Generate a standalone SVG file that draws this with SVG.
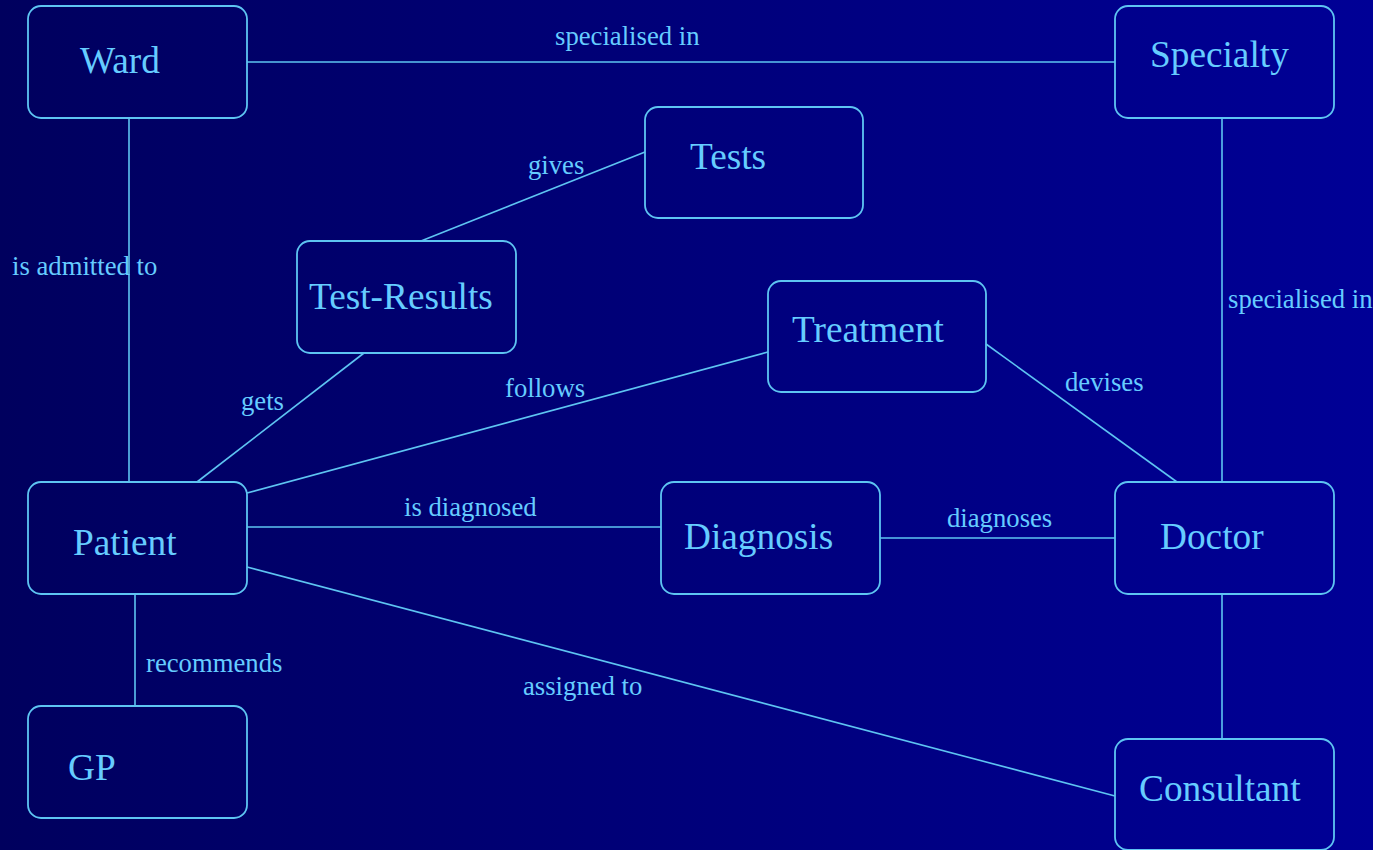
<svg xmlns="http://www.w3.org/2000/svg" width="1373" height="850" viewBox="0 0 1373 850">
<defs>
<linearGradient id="bg" x1="0" y1="0" x2="1" y2="0">
<stop offset="0" stop-color="#00005E"/>
<stop offset="1" stop-color="#000096"/>
</linearGradient>
<style>
.box{fill:none;stroke:#5EC4F2;stroke-width:1.8}
.name{font-family:"Liberation Serif","Times New Roman",serif;font-size:37.3px;fill:#66CCFF}
.lbl{font-family:"Liberation Serif","Times New Roman",serif;font-size:26.7px;fill:#66CCFF}
.conn line{stroke:#5EC4F2;stroke-width:1.6}
</style>
</defs>
<rect x="0" y="0" width="1373" height="850" fill="url(#bg)"/>
<g id="connectors" class="conn">
<line x1="247" y1="62" x2="1115" y2="62"/>
<line x1="129" y1="118" x2="129" y2="482"/>
<line x1="1222" y1="118" x2="1222" y2="482"/>
<line x1="645" y1="152" x2="421" y2="241"/>
<line x1="364" y1="353" x2="197" y2="482"/>
<line x1="768" y1="352" x2="247" y2="493"/>
<line x1="986" y1="344" x2="1177" y2="482"/>
<line x1="247" y1="527" x2="661" y2="527"/>
<line x1="880" y1="538" x2="1115" y2="538"/>
<line x1="135" y1="594" x2="135" y2="706"/>
<line x1="247" y1="567" x2="1115" y2="796"/>
<line x1="1222" y1="594" x2="1222" y2="739"/>
</g>
<g id="labels">
<text class="lbl" x="555" y="45">specialised in</text>
<text class="lbl" x="528" y="174">gives</text>
<text class="lbl" x="12" y="275">is admitted to</text>
<text class="lbl" x="1228" y="308">specialised in</text>
<text class="lbl" x="505" y="397">follows</text>
<text class="lbl" x="1065" y="391">devises</text>
<text class="lbl" x="241" y="410">gets</text>
<text class="lbl" x="404" y="516">is diagnosed</text>
<text class="lbl" x="947" y="527">diagnoses</text>
<text class="lbl" x="146" y="672">recommends</text>
<text class="lbl" x="523" y="695">assigned to</text>
</g>
<g id="ward"><rect class="box" x="28" y="6" width="219" height="112" rx="13"/><text class="name" x="80" y="73">Ward</text></g>
<g id="specialty"><rect class="box" x="1115" y="6" width="219" height="112" rx="13"/><text class="name" x="1150" y="67">Specialty</text></g>
<g id="tests"><rect class="box" x="645" y="107" width="218" height="111" rx="13"/><text class="name" x="690" y="169">Tests</text></g>
<g id="test-results"><rect class="box" x="297" y="241" width="219" height="112" rx="13"/><text class="name" x="309" y="309">Test-Results</text></g>
<g id="treatment"><rect class="box" x="768" y="281" width="218" height="111" rx="13"/><text class="name" x="792" y="342">Treatment</text></g>
<g id="patient"><rect class="box" x="28" y="482" width="219" height="112" rx="13"/><text class="name" x="73" y="555">Patient</text></g>
<g id="diagnosis"><rect class="box" x="661" y="482" width="219" height="112" rx="13"/><text class="name" x="684" y="549">Diagnosis</text></g>
<g id="doctor"><rect class="box" x="1115" y="482" width="219" height="112" rx="13"/><text class="name" x="1160" y="549">Doctor</text></g>
<g id="gp"><rect class="box" x="28" y="706" width="219" height="112" rx="13"/><text class="name" x="68" y="780">GP</text></g>
<g id="consultant"><rect class="box" x="1115" y="739" width="219" height="111" rx="13"/><text class="name" x="1139" y="801">Consultant</text></g>
</svg>
